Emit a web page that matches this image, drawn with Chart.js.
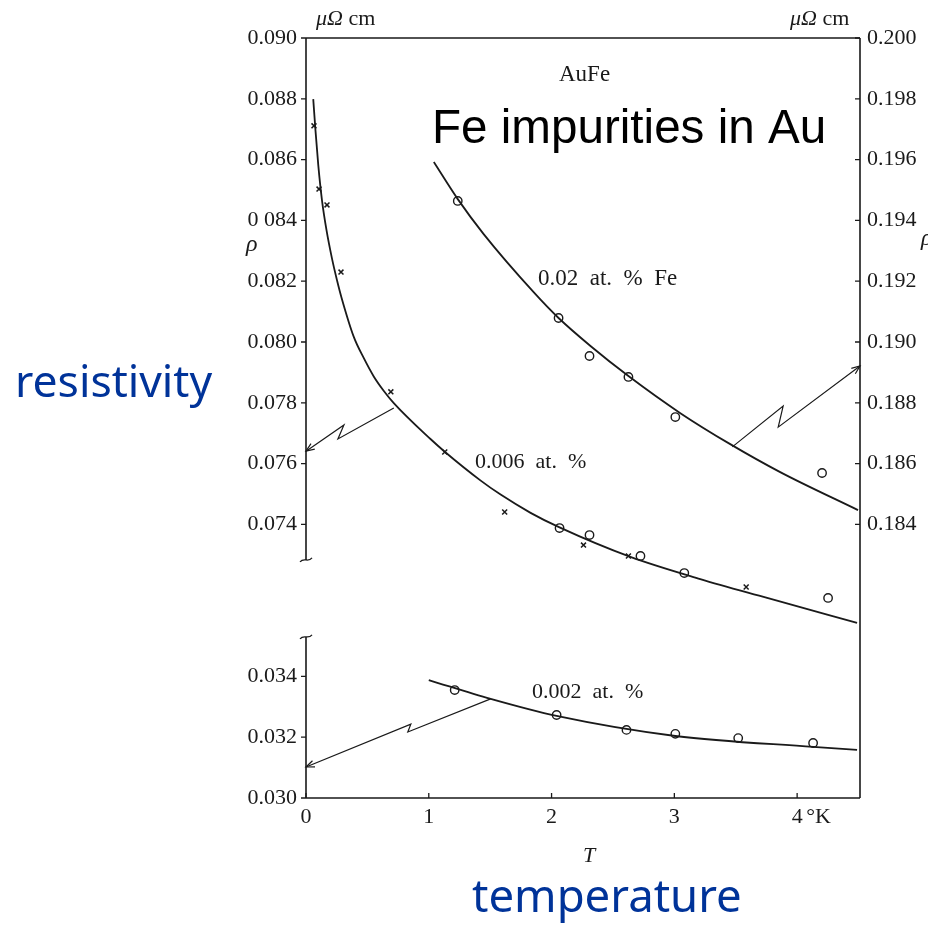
<!DOCTYPE html>
<html><head><meta charset="utf-8">
<script src="https://cdn.jsdelivr.net/npm/chart.js@4.4.1/dist/chart.umd.min.js"></script>
<style>html,body{margin:0;padding:0;background:#fff}#wrap{width:928px;height:926px}</style>
</head><body><div id="wrap"><canvas id="c" width="928" height="926"></canvas></div>
<script>
// ---------- DATA ----------
// 0.006 at.% Fe  (left axis, upper panel)
const tCross006 = [0.065, 0.106, 0.171, 0.285, 0.691, 1.130, 1.618, 2.260, 2.626, 3.585];
const rhoCross006 = [0.08711, 0.08503, 0.08451, 0.08230, 0.07836, 0.07638, 0.07441, 0.07332, 0.07296, 0.07194];
const tCircle006 = [2.065, 2.309, 2.724, 3.081, 4.252];
const rhoCircle006 = [0.07388, 0.07365, 0.07296, 0.07240, 0.07158];
const tCurve006 = [0.059, 0.077, 0.100, 0.130, 0.167, 0.211, 0.252, 0.290, 0.390, 0.472, 0.553, 0.634, 0.715, 1.016, 1.130, 1.423, 1.585, 1.829, 2.065, 2.642, 3.211, 3.756, 4.488];
const rhoCurve006 = [0.08799, 0.08697, 0.08582, 0.08467, 0.08368, 0.08276, 0.08204, 0.08145, 0.08016, 0.07946, 0.07886, 0.07839, 0.07799, 0.07680, 0.07639, 0.07544, 0.07498, 0.07438, 0.07390, 0.07293, 0.07220, 0.07158, 0.07076];

// 0.02 at.% Fe  (right axis)
const tCircle02 = [1.236, 2.057, 2.309, 2.626, 3.008, 4.203];
const rhoCircle02 = [0.19464, 0.19079, 0.18954, 0.18885, 0.18753, 0.18569];
const tCurve02 = [1.041, 1.236, 1.447, 1.854, 2.057, 2.317, 2.626, 3.049, 3.455, 3.862, 4.496];
const rhoCurve02 = [0.19592, 0.19470, 0.19355, 0.19164, 0.19079, 0.18987, 0.18888, 0.18766, 0.18664, 0.18572, 0.18447];

// 0.002 at.% Fe  (left axis, lower panel, true values)
const tCircle002 = [1.211, 2.041, 2.610, 3.008, 3.520, 4.130];
const rhoCircle002 = [0.03355, 0.03273, 0.03224, 0.03211, 0.03197, 0.03181];
const tCurve002 = [1.000, 1.504, 2.041, 3.008, 4.130, 4.488];
const rhoCurve002 = [0.03388, 0.03326, 0.03270, 0.03204, 0.03168, 0.03158];

// axis ticks
const xTickValues = [0, 1, 2, 3, 4];
const xTickLabels = ['0', '1', '2', '3', '4'];
const leftUpperTicks = [0.074, 0.076, 0.078, 0.080, 0.082, 0.084, 0.086, 0.088, 0.090];
const leftUpperLabels = ['0.074', '0.076', '0.078', '0.080', '0.082', '0 084', '0.086', '0.088', '0.090'];
const leftLowerTicks = [0.030, 0.032, 0.034];
const leftLowerLabels = ['0.030', '0.032', '0.034'];
const rightTicks = [0.184, 0.186, 0.188, 0.190, 0.192, 0.194, 0.196, 0.198, 0.200];
const rightLabels = ['0.184', '0.186', '0.188', '0.190', '0.192', '0.194', '0.196', '0.198', '0.200'];

// broken left axis: the lower panel is shifted up by this amount on the shared scale
const LOWER_SHIFT = 0.035;
const breakUpper = 0.07283;   // end of upper axis segment
const breakLower = 0.0353;    // start of lower axis segment (true value)

// indicator arrows (start on curve -> tip on axis), in data units
const arrowLeftT = [0.715, 0.260, 0.309, 0.0];
const arrowLeftRho = [0.07783, 0.07681, 0.07727, 0.07641];
const arrowRightT = [3.472, 3.886, 3.846, 4.512];
const arrowRightRho = [0.18655, 0.18789, 0.18720, 0.18921];
const arrowLowT = [1.504, 0.829, 0.854, 0.0];
const arrowLowRho = [0.03326, 0.03217, 0.03243, 0.03102];

// ---------- BUILD ----------
const pts = (xs, ys, shift = 0) => xs.map((x, i) => ({x, y: ys[i] + shift}));
const leftTickValues = leftLowerTicks.map(v => v + LOWER_SHIFT).concat(leftUpperTicks);
const leftTickLabels = leftLowerLabels.concat(leftUpperLabels);

const SERIF = '"Liberation Serif", "DejaVu Serif", serif';
const INK = '#1a1a1a';

const curve = (data, axis) => ({type: 'scatter', data, yAxisID: axis, showLine: true, borderColor: INK, borderWidth: 1.8,
  pointRadius: 0, cubicInterpolationMode: 'monotone', fill: false});
const circles = (data, axis) => ({type: 'scatter', data, yAxisID: axis, pointStyle: 'circle', pointRadius: 4.2,
  pointBackgroundColor: '#fff', pointBorderColor: INK, pointBorderWidth: 1.4, showLine: false});
const crosses = (data, axis) => ({type: 'scatter', data, yAxisID: axis, pointStyle: 'crossRot', pointRadius: 3.5,
  pointBorderColor: INK, pointBorderWidth: 1.5, showLine: false});

const decor = {
  id: 'decor',
  afterDraw(chart) {
    const ctx = chart.ctx, a = chart.chartArea;
    const sx = chart.scales.x, sy = chart.scales.y, sr = chart.scales.y1;
    ctx.save();
    ctx.strokeStyle = INK; ctx.lineWidth = 1.6; ctx.lineCap = 'butt';
    // frame: top, right, bottom
    ctx.beginPath();
    ctx.moveTo(a.left, a.top); ctx.lineTo(a.right, a.top);
    ctx.moveTo(a.right, a.top); ctx.lineTo(a.right, a.bottom);
    ctx.moveTo(a.left, a.bottom); ctx.lineTo(a.right, a.bottom);
    ctx.stroke();
    // left axis with break
    const yb1 = sy.getPixelForValue(breakUpper), yb2 = sy.getPixelForValue(breakLower + LOWER_SHIFT);
    ctx.beginPath();
    ctx.moveTo(a.left, a.top); ctx.lineTo(a.left, yb1);
    ctx.moveTo(a.left, yb2); ctx.lineTo(a.left, a.bottom);
    ctx.stroke();
    ctx.lineWidth = 1.3;
    [yb1, yb2].forEach(yy => {
      ctx.beginPath();
      ctx.moveTo(a.left - 6, yy + 2);
      ctx.bezierCurveTo(a.left - 2, yy - 3, a.left + 2, yy + 3, a.left + 6, yy - 2);
      ctx.stroke();
    });
    // tick marks
    ctx.lineWidth = 1.3;
    ctx.beginPath();
    leftTickValues.forEach(v => { const p = sy.getPixelForValue(v); ctx.moveTo(a.left - 5, p); ctx.lineTo(a.left, p); });
    rightTicks.forEach(v => { const p = sr.getPixelForValue(v); ctx.moveTo(a.right - 5, p); ctx.lineTo(a.right, p); });
    xTickValues.forEach(v => { const p = sx.getPixelForValue(v); ctx.moveTo(p, a.bottom); ctx.lineTo(p, a.bottom - 5); });
    ctx.stroke();
    // arrows
    const arrow = (ts, rs, scale, shift) => {
      const P = ts.map((t, i) => [sx.getPixelForValue(t), scale.getPixelForValue(rs[i] + shift)]);
      ctx.lineWidth = 1.2;
      ctx.beginPath();
      P.forEach((p, i) => i ? ctx.lineTo(p[0], p[1]) : ctx.moveTo(p[0], p[1]));
      ctx.stroke();
      const [x1, y1] = P[P.length - 2], [x2, y2] = P[P.length - 1];
      const ang = Math.atan2(y2 - y1, x2 - x1), L = 9, w = 0.38;
      ctx.beginPath();
      ctx.moveTo(x2 - L * Math.cos(ang - w), y2 - L * Math.sin(ang - w));
      ctx.lineTo(x2, y2);
      ctx.lineTo(x2 - L * Math.cos(ang + w), y2 - L * Math.sin(ang + w));
      ctx.stroke();
    };
    arrow(arrowLeftT, arrowLeftRho, sy, 0);
    arrow(arrowRightT, arrowRightRho, sr, 0);
    arrow(arrowLowT, arrowLowRho, sy, LOWER_SHIFT);

    // texts
    ctx.fillStyle = INK; ctx.textBaseline = 'alphabetic'; ctx.textAlign = 'left';
    const unit = (x) => {
      ctx.font = 'italic 22px ' + SERIF; ctx.fillText('\u03BC\u03A9', x, 25);
      const w = ctx.measureText('\u03BC\u03A9').width;
      ctx.font = '22px ' + SERIF; ctx.fillText(' cm', x + w, 25);
    };
    unit(316); unit(790);
    ctx.font = '23px ' + SERIF; ctx.fillText('AuFe', 559, 81);
    ctx.font = '23px ' + SERIF;
    ctx.fillText('0.02  at.  %  Fe', 538, 285);
    ctx.font = '22px ' + SERIF;
    ctx.fillText('0.006  at.  %', 475, 468);
    ctx.fillText('0.002  at.  %', 532, 698);
    ctx.fillText('\u00B0K', sx.getPixelForValue(4) + 9, 823);
    ctx.font = 'italic 24px ' + SERIF;
    ctx.fillText('\u03C1', 246, 251);
    ctx.fillText('\u03C1', 921, 245);
    ctx.font = 'italic 22px ' + SERIF; ctx.textAlign = 'center';
    ctx.fillText('T', 589, 862);
    ctx.textAlign = 'left';
    const fit = (text, x, y, w, fam, color) => {
      ctx.font = '100px ' + fam;
      const m = ctx.measureText(text).width;
      ctx.font = (100 * w / m).toFixed(1) + 'px ' + fam;
      ctx.fillStyle = color; ctx.fillText(text, x, y);
    };
    fit('Fe impurities in Au', 432, 143, 394, '"Liberation Sans", Arial, sans-serif', '#000');
    fit('resistivity', 15, 397, 197, '"Noto Sans", "Open Sans", sans-serif', '#003399');
    fit('temperature', 472, 912, 270, '"Noto Sans", "Open Sans", sans-serif', '#003399');
    ctx.restore();
  }
};

new Chart(document.getElementById('c'), {
  type: 'scatter',
  data: {datasets: [
    curve(pts(tCurve006, rhoCurve006), 'y'),
    curve(pts(tCurve02, rhoCurve02), 'y1'),
    curve(pts(tCurve002, rhoCurve002, LOWER_SHIFT), 'y'),
    crosses(pts(tCross006, rhoCross006), 'y'),
    circles(pts(tCircle006, rhoCircle006), 'y'),
    circles(pts(tCircle02, rhoCircle02), 'y1'),
    circles(pts(tCircle002, rhoCircle002, LOWER_SHIFT), 'y')
  ]},
  options: {
    responsive: false, animation: false, devicePixelRatio: 1,
    layout: {padding: {top: 38, left: 0, right: 0, bottom: 0}},
    plugins: {legend: {display: false}, tooltip: {enabled: false}},
    scales: {
      x: {type: 'linear', min: 0, max: 4.512,
        afterBuildTicks: s => { s.ticks = xTickValues.map(v => ({value: v})); },
        afterFit: s => { s.height = 128; },
        grid: {display: false, drawTicks: false}, border: {display: false},
        ticks: {font: {size: 22, family: SERIF}, color: INK, padding: 6, maxRotation: 0,
          callback: (v, i) => xTickLabels[i]}},
      y: {type: 'linear', position: 'left', min: 0.065, max: 0.090,
        afterBuildTicks: s => { s.ticks = leftTickValues.map(v => ({value: v})); },
        afterFit: s => { s.width = 306; },
        grid: {display: false, drawTicks: false}, border: {display: false},
        ticks: {font: {size: 22, family: SERIF}, color: INK, padding: 9,
          callback: (v, i) => leftTickLabels[i]}},
      y1: {type: 'linear', position: 'right', min: 0.175, max: 0.200,
        afterBuildTicks: s => { s.ticks = rightTicks.map(v => ({value: v})); },
        afterFit: s => { s.width = 68; },
        grid: {display: false, drawTicks: false}, border: {display: false},
        ticks: {font: {size: 22, family: SERIF}, color: INK, padding: 7,
          callback: (v, i) => rightLabels[i]}}
    }
  },
  plugins: [decor]
});
</script>
</body></html>
